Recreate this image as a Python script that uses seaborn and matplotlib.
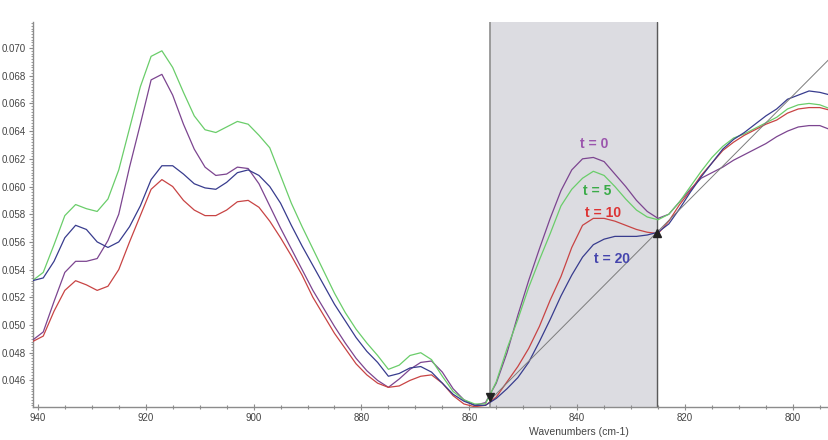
import pandas as pd
import matplotlib
matplotlib.use("Agg")
import matplotlib.pyplot as plt
import seaborn as sns
from matplotlib.ticker import MultipleLocator, FormatStrFormatter

# wavenumber grid (cm-1), high to low
wavenumber = [941, 939, 937, 935, 933, 931, 929, 927, 925, 923,
              921, 919, 917, 915, 913, 911, 909, 907, 905, 903,
              901, 899, 897, 895, 893, 891, 889, 887, 885, 883,
              881, 879, 877, 875, 873, 871, 869, 867, 865, 863,
              861, 859, 857, 855, 853, 851, 849, 847, 845, 843,
              841, 839, 837, 835, 833, 831, 829, 827, 825, 823,
              821, 819, 817, 815, 813, 811, 809, 807, 805, 803,
              801, 799, 797, 795, 793]

t0 = [0.0489, 0.0495, 0.0517, 0.0538, 0.0546, 0.0546, 0.0548, 0.0561, 0.0580, 0.0614,
      0.0645, 0.0677, 0.0681, 0.0666, 0.0645, 0.0627, 0.0614, 0.0608, 0.0609, 0.0614,
      0.0613, 0.0602, 0.0586, 0.0570, 0.0555, 0.0540, 0.0525, 0.0512, 0.0499, 0.0487,
      0.0476, 0.0467, 0.0460, 0.0455, 0.0461, 0.0468, 0.0473, 0.0474, 0.0466, 0.0454,
      0.0446, 0.0442, 0.0444, 0.0458, 0.0480, 0.0507, 0.0532, 0.0555, 0.0577, 0.0597,
      0.0612, 0.0620, 0.0621, 0.0618, 0.0609, 0.0600, 0.0590, 0.0582, 0.0577, 0.0580,
      0.0589, 0.0598, 0.0606, 0.0610, 0.0614, 0.0619, 0.0623, 0.0627, 0.0631, 0.0636,
      0.0640, 0.0643, 0.0644, 0.0644, 0.0641]

t5 = [0.0532, 0.0538, 0.0558, 0.0579, 0.0587, 0.0584, 0.0582, 0.0591, 0.0612, 0.0642,
      0.0672, 0.0694, 0.0698, 0.0686, 0.0668, 0.0651, 0.0641, 0.0639, 0.0643, 0.0647,
      0.0645, 0.0637, 0.0628, 0.0608, 0.0588, 0.0571, 0.0555, 0.0539, 0.0523, 0.0509,
      0.0497, 0.0487, 0.0478, 0.0468, 0.0471, 0.0478, 0.0480, 0.0475, 0.0463, 0.0452,
      0.0446, 0.0443, 0.0443, 0.0459, 0.0483, 0.0504, 0.0527, 0.0547, 0.0566, 0.0586,
      0.0598, 0.0606, 0.0611, 0.0608, 0.0600, 0.0591, 0.0583, 0.0578, 0.0576, 0.0580,
      0.0589, 0.0600, 0.0611, 0.0621, 0.0629, 0.0635, 0.0638, 0.0642, 0.0646, 0.0650,
      0.0656, 0.0659, 0.0660, 0.0659, 0.0656]

t10 = [0.0488, 0.0492, 0.0510, 0.0525, 0.0532, 0.0529, 0.0525, 0.0528, 0.0540, 0.0560,
       0.0579, 0.0598, 0.0605, 0.0600, 0.0590, 0.0583, 0.0579, 0.0579, 0.0583, 0.0589,
       0.0590, 0.0585, 0.0575, 0.0563, 0.0550, 0.0536, 0.0520, 0.0507, 0.0494, 0.0483,
       0.0472, 0.0464, 0.0458, 0.0455, 0.0456, 0.0460, 0.0463, 0.0464, 0.0458, 0.0449,
       0.0443, 0.0441, 0.0442, 0.0448, 0.0459, 0.0470, 0.0483, 0.0499, 0.0518, 0.0535,
       0.0556, 0.0572, 0.0577, 0.0577, 0.0575, 0.0572, 0.0569, 0.0567, 0.0566, 0.0575,
       0.0587, 0.0597, 0.0608, 0.0617, 0.0626, 0.0632, 0.0637, 0.0641, 0.0645, 0.0648,
       0.0653, 0.0656, 0.0657, 0.0657, 0.0655]

t20 = [0.0532, 0.0534, 0.0546, 0.0563, 0.0572, 0.0569, 0.0560, 0.0556, 0.0560, 0.0571,
       0.0586, 0.0605, 0.0615, 0.0615, 0.0609, 0.0602, 0.0599, 0.0598, 0.0603, 0.0610,
       0.0612, 0.0608, 0.0600, 0.0588, 0.0572, 0.0557, 0.0543, 0.0529, 0.0515, 0.0503,
       0.0491, 0.0481, 0.0473, 0.0463, 0.0465, 0.0469, 0.0470, 0.0466, 0.0458, 0.0450,
       0.0445, 0.0442, 0.0442, 0.0447, 0.0454, 0.0462, 0.0473, 0.0488, 0.0504, 0.0521,
       0.0536, 0.0549, 0.0558, 0.0562, 0.0564, 0.0564, 0.0564, 0.0565, 0.0567, 0.0573,
       0.0584, 0.0596, 0.0607, 0.0617, 0.0627, 0.0634, 0.0639, 0.0645, 0.0651, 0.0656,
       0.0663, 0.0666, 0.0669, 0.0668, 0.0666]

# integration region and baseline
region = [825.2, 856.1]
baseline_x = [856.1, 793.0]
baseline_y = [0.0446, 0.0693]

labels = ["t = 0", "t = 5", "t = 10", "t = 20"]
label_x = [836.8, 836.3, 835.2, 833.5]
label_y = [0.0631, 0.0597, 0.0581, 0.0548]

line_colors = {"t = 0": "#7c4590", "t = 5": "#6acd6a", "t = 10": "#c84444", "t = 20": "#383c8e"}
text_colors = {"t = 0": "#9b55ad", "t = 5": "#3aab48", "t = 10": "#dd3333", "t = 20": "#4444ad"}


def build_frame():
    df = pd.DataFrame({"wavenumber": wavenumber, "t = 0": t0, "t = 5": t5,
                       "t = 10": t10, "t = 20": t20})
    return df.melt(id_vars="wavenumber", var_name="time", value_name="absorbance")


def main():
    sns.set_style("white")
    plt.rcParams['font.family'] = ['Liberation Sans', 'DejaVu Sans']

    fig = plt.figure(figsize=(8.29, 4.40), dpi=100)
    ax = fig.add_axes([33 / 829, 33 / 440, 796 / 829, 385 / 440])

    ax.axvspan(region[0], region[1], color="#dcdce1", zorder=0)
    ax.axvline(region[1], color="#8e8e8e", lw=1.2, zorder=1)
    ax.axvline(region[0], color="#5a5a5a", lw=1.0, zorder=1)

    data = build_frame()
    sns.lineplot(data=data, x="wavenumber", y="absorbance", hue="time",
                 palette=line_colors, estimator=None, lw=0.9, legend=False,
                 ax=ax, zorder=3)

    ax.plot(baseline_x, baseline_y, color="#7c7c7c", lw=0.7, zorder=4)
    ax.plot([region[1]], [0.0448], marker="v", color="#222222", ms=5.5, zorder=5)
    ax.plot([region[0]], [0.05664], marker="^", color="#222222", ms=5.5, zorder=5)

    for lab, x, y in zip(labels, label_x, label_y):
        ax.text(x, y, lab, color=text_colors[lab], fontsize=10, fontweight="bold",
                ha="center", va="center", zorder=6)

    ax.set_xlim(940.9, 793.3)
    ax.set_ylim(0.04408, 0.07188)
    ax.xaxis.set_major_locator(MultipleLocator(20))
    ax.xaxis.set_minor_locator(MultipleLocator(5))
    ax.yaxis.set_major_locator(MultipleLocator(0.002))
    ax.yaxis.set_minor_locator(MultipleLocator(0.0002))
    ax.yaxis.set_major_formatter(FormatStrFormatter("%.3f"))
    ax.xaxis.set_major_formatter(FormatStrFormatter("%d"))

    for side in ["top", "right"]:
        ax.spines[side].set_visible(False)
    for side in ["left", "bottom"]:
        ax.spines[side].set_color("#8c8c8c")
        ax.spines[side].set_linewidth(1.0)

    ax.tick_params(axis="both", which="major", labelsize=7, labelcolor="#444444",
                   color="#8c8c8c", length=3, width=0.8, pad=2)
    ax.tick_params(axis="x", which="major", direction="inout", length=4)
    ax.tick_params(axis="x", which="minor", direction="inout", length=3,
                   color="#8c8c8c", width=0.8)
    ax.tick_params(axis="y", which="minor", direction="out", length=1.5,
                   color="#8c8c8c", width=0.6)
    ax.tick_params(left=True, bottom=True, which="both")

    ax.set_ylabel("")
    ax.set_xlabel("Wavenumbers (cm-1)", fontsize=7.5, color="#444444")
    ax.xaxis.set_label_coords(0.686, -0.052)

    fig.savefig("out.png", dpi=100)


if __name__ == "__main__":
    main()
